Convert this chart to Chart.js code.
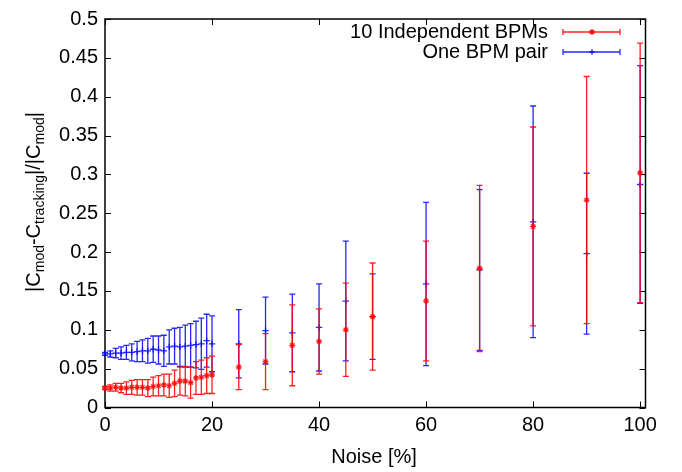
<!DOCTYPE html>
<html>
<head>
<meta charset="utf-8">
<script src="https://cdn.jsdelivr.net/npm/chart.js@4/dist/chart.umd.min.js"></script>
<style>
 body{margin:0;background:#fff;}
 #wrap{width:682px;height:472px;}
</style>
</head>
<body>
<div id="wrap"><canvas id="chart" width="682" height="472"></canvas></div>
<script>
// noise levels [%]
var noise = [0,1,2,3,4,5,6,7,8,9,10,11,12,13,14,15,16,17,18,19,20,25,30,35,40,45,50,60,70,80,90,100];

// 10 independent BPMs
var indepVal = [0.025,0.025,0.026,0.025,0.025,0.026,0.026,0.026,0.025,0.027,0.028,0.029,0.028,0.031,0.034,0.034,0.032,0.038,0.039,0.041,0.042,
                0.052,0.059,0.080,0.085,0.100,0.117,0.137,0.179,0.233,0.267,0.302];
var indepErr = [0.002,0.004,0.005,0.006,0.008,0.009,0.010,0.010,0.011,0.012,0.013,0.014,0.015,0.017,0.018,0.019,0.020,0.021,0.022,0.023,0.024,
                0.029,0.036,0.052,0.042,0.060,0.069,0.077,0.107,0.128,0.159,0.167];

// one BPM pair
var pairVal = [0.069,0.069,0.070,0.070,0.071,0.071,0.072,0.073,0.073,0.075,0.074,0.073,0.078,0.079,0.078,0.079,0.080,0.081,0.082,0.086,0.082,
               0.082,0.099,0.096,0.103,0.137,0.117,0.159,0.177,0.239,0.198,0.287];
var pairErr = [0.002,0.004,0.006,0.008,0.009,0.011,0.013,0.014,0.016,0.017,0.018,0.020,0.022,0.023,0.025,0.027,0.028,0.030,0.033,0.034,0.036,
               0.044,0.043,0.050,0.056,0.077,0.055,0.105,0.1035,0.149,0.1035,0.153];

var xTicks = [0,20,40,60,80,100];
var yTicks = [0,0.05,0.1,0.15,0.2,0.25,0.3,0.35,0.4,0.45,0.5];

var FONT = '"Liberation Sans", Arial, Helvetica, sans-serif';
var RED = 'rgba(255,0,0,0.88)';
var BLUE = 'rgba(0,0,255,0.85)';

function pts(vals){
	var out=[];
	for(var k=0;k<noise.length;k++) out.push({x:noise[k], y:vals[k]});
	return out;
}

// vertical error bars, drawn for each dataset right before its points
var errorBars = {
	id:'errorBars',
	beforeDatasetDraw: function(chart, args){
		var ds = chart.data.datasets[args.index];
		var xs = chart.scales.x, ys = chart.scales.y;
		var ctx = chart.ctx;
		ctx.save();
		ctx.strokeStyle = ds.borderColor;
		ctx.lineWidth = 1.3;
		for(var k=0;k<ds.data.length;k++){
			var px = xs.getPixelForValue(ds.data[k].x);
			var top = ys.getPixelForValue(ds.data[k].y + ds.err[k]);
			var bot = ys.getPixelForValue(ds.data[k].y - ds.err[k]);
			ctx.beginPath();
			ctx.moveTo(px, top); ctx.lineTo(px, bot);
			ctx.moveTo(px-3, top); ctx.lineTo(px+3, top);
			ctx.moveTo(px-3, bot); ctx.lineTo(px+3, bot);
			ctx.stroke();
		}
		ctx.restore();
	}
};

// frame, inward ticks, axis titles and legend like gnuplot
var frame = {
	id:'frame',
	beforeDatasetsDraw: function(chart){
		var ctx = chart.ctx, a = chart.chartArea;
		var xs = chart.scales.x, ys = chart.scales.y;
		ctx.save();
		ctx.strokeStyle = '#000';
		ctx.lineWidth = 1.5;
		ctx.strokeRect(a.left, a.top, a.right-a.left, a.bottom-a.top);
		ctx.lineWidth = 1;
		ctx.beginPath();
		for(var i=0;i<yTicks.length;i++){
			var py = Math.round(ys.getPixelForValue(yTicks[i]))+0.5;
			ctx.moveTo(a.left, py); ctx.lineTo(a.left+6, py);
			ctx.moveTo(a.right, py); ctx.lineTo(a.right-6, py);
		}
		for(var j=0;j<xTicks.length;j++){
			var px = Math.round(xs.getPixelForValue(xTicks[j]))+0.5;
			ctx.moveTo(px, a.bottom); ctx.lineTo(px, a.bottom-6);
			ctx.moveTo(px, a.top); ctx.lineTo(px, a.top+6);
		}
		ctx.stroke();
		ctx.restore();
	},
	afterDraw: function(chart){
		var ctx = chart.ctx, a = chart.chartArea;
		ctx.save();
		// x title
		ctx.fillStyle = '#000';
		ctx.font = '20px ' + FONT;
		ctx.textAlign = 'center';
		ctx.textBaseline = 'middle';
		ctx.fillText('Noise [%]', 374, 457);

		// y title with subscripts
		var parts = [['|C',0],['mod',1],['-C',0],['tracking',1],['|/|C',0],['mod',1],['|',0]];
		var big = '20px ' + FONT, small = '14px ' + FONT;
		var total = 0;
		for(var p=0;p<parts.length;p++){
			ctx.font = parts[p][1] ? small : big;
			total += ctx.measureText(parts[p][0]).width;
		}
		ctx.translate(40, 202);
		ctx.rotate(-Math.PI/2);
		ctx.textAlign = 'left';
		ctx.textBaseline = 'alphabetic';
		var cx = -total/2;
		for(var q=0;q<parts.length;q++){
			ctx.font = parts[q][1] ? small : big;
			ctx.fillText(parts[q][0], cx, parts[q][1] ? 4 : 0);
			cx += ctx.measureText(parts[q][0]).width;
		}
		ctx.setTransform(1,0,0,1,0,0);

		// legend
		var items = [
			{label:'10 Independent BPMs', color:RED, style:'star', y:32},
			{label:'One BPM pair', color:BLUE, style:'cross', y:52}
		];
		ctx.font = '20px ' + FONT;
		ctx.textAlign = 'right';
		ctx.textBaseline = 'middle';
		for(var m=0;m<items.length;m++){
			var it = items[m];
			ctx.fillStyle = '#000';
			ctx.fillText(it.label, 548, it.y);
			ctx.strokeStyle = it.color;
			ctx.fillStyle = it.color;
			ctx.lineWidth = 1.3;
			ctx.beginPath();
			ctx.moveTo(563, it.y); ctx.lineTo(620, it.y);
			ctx.moveTo(563, it.y-3); ctx.lineTo(563, it.y+3);
			ctx.moveTo(620, it.y-3); ctx.lineTo(620, it.y+3);
			ctx.stroke();
			Chart.helpers.drawPoint(ctx, {pointStyle:it.style, radius:3, rotation:0, borderWidth:1.2}, 592, it.y);
		}
		ctx.restore();
	}
};

var ctx = document.getElementById('chart').getContext('2d');
var chart = new Chart(ctx, {
	type:'scatter',
	data:{
		datasets:[
			{label:'10 Independent BPMs', data:pts(indepVal), err:indepErr, clip:false,
			 borderColor:RED, backgroundColor:RED, pointStyle:'star', pointRadius:3, borderWidth:1.2},
			{label:'One BPM pair', data:pts(pairVal), err:pairErr, clip:false,
			 borderColor:BLUE, backgroundColor:BLUE, pointStyle:'cross', pointRadius:3.2, borderWidth:1.3}
		]
	},
	options:{
		responsive:false,
		animation:false,
		layout:{padding:{top:14.5, right:36.5, left:0, bottom:0}},
		plugins:{legend:{display:false}, tooltip:{enabled:false}},
		scales:{
			x:{
				type:'linear', min:0, max:101,
				afterFit:function(s){ s.height = 64.5; },
				afterBuildTicks:function(s){ s.ticks = xTicks.map(function(v){return {value:v};}); },
				grid:{display:false, drawTicks:false},
				border:{display:false},
				ticks:{color:'#000', font:{family:FONT, size:20}, padding:6, maxRotation:0}
			},
			y:{
				type:'linear', min:0, max:0.5,
				afterFit:function(s){ s.width = 105; },
				afterBuildTicks:function(s){ s.ticks = yTicks.map(function(v){return {value:v};}); },
				grid:{display:false, drawTicks:false},
				border:{display:false},
				ticks:{color:'#000', font:{family:FONT, size:20}, padding:7,
					callback:function(v){ return String(+v.toFixed(2)); }}
			}
		}
	},
	plugins:[errorBars, frame]
});
</script>
</body>
</html>
